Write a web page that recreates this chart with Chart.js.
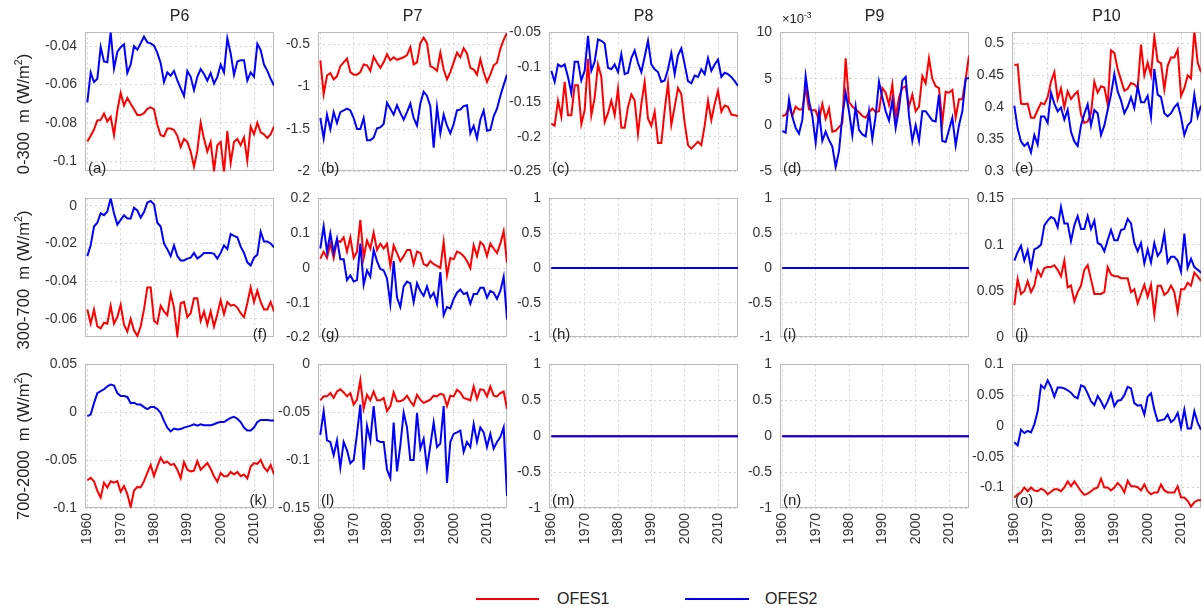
<!DOCTYPE html>
<html>
<head>
<meta charset="utf-8">
<script src="https://cdn.jsdelivr.net/npm/chart.js@4.4.1/dist/chart.umd.min.js"></script>
<style>
  body { margin: 0; background: #fff; width: 1204px; height: 615px; position: relative; overflow: hidden;
         font-family: "Liberation Sans", Arial, sans-serif; }
  canvas { position: absolute; }
  .txt { position: absolute; color: #222; white-space: nowrap; line-height: 1; }
  .ttl { font-size: 16px; transform: translateX(-50%); }
  .ylab { font-size: 16.5px; transform: translate(-50%, -50%) rotate(-90deg); }
  .ylab sup, .exp sup { font-size: 65%; vertical-align: 0.6em; line-height: 0; }
  .let { font-size: 15px; }
  .leg { font-size: 16px; }
  .line { position: absolute; height: 2px; }
</style>
</head>
<body>
<script>
// Years and ticks

const years = [1960, 1961, 1962, 1963, 1964, 1965, 1966, 1967, 1968, 1969,
  1970, 1971, 1972, 1973, 1974, 1975, 1976, 1977, 1978, 1979,
  1980, 1981, 1982, 1983, 1984, 1985, 1986, 1987, 1988, 1989,
  1990, 1991, 1992, 1993, 1994, 1995, 1996, 1997, 1998, 1999,
  2000, 2001, 2002, 2003, 2004, 2005, 2006, 2007, 2008, 2009,
  2010, 2011, 2012, 2013, 2014, 2015, 2016];
const xTicks = [1960, 1970, 1980, 1990, 2000, 2010];

const sections = ["P6", "P7", "P8", "P9", "P10"];
const layers = ["0-300", "300-700", "700-2000"];

// Row 1 : 0-300 m

const ofes1_a = [-0.0898, -0.0868, -0.0835, -0.0788, -0.0785, -0.0752, -0.0793, -0.0769, -0.0865, -0.0736,
  -0.0645, -0.071, -0.067, -0.070, -0.073, -0.076, -0.076, -0.075, -0.0727, -0.0719,
  -0.073, -0.081, -0.0865, -0.087, -0.083, -0.083, -0.0838, -0.0868, -0.0926, -0.0884,
  -0.090, -0.095, -0.103, -0.0947, -0.080, -0.0884, -0.095, -0.090, -0.105, -0.0917,
  -0.090, -0.106, -0.0843, -0.101, -0.090, -0.0884, -0.0917, -0.0876, -0.0998, -0.082,
  -0.086, -0.080, -0.085, -0.086, -0.088, -0.086, -0.082];
const ofes2_a = [-0.0694, -0.0537, -0.0587, -0.057, -0.0405, -0.048, -0.0484, -0.0327, -0.0517, -0.043,
  -0.0405, -0.039, -0.054, -0.0496, -0.040, -0.0418, -0.0385, -0.035, -0.038, -0.0385,
  -0.0397, -0.0435, -0.0488, -0.0587, -0.0537, -0.0554, -0.0529, -0.0579, -0.062, -0.066,
  -0.053, -0.056, -0.063, -0.056, -0.052, -0.0545, -0.058, -0.054, -0.0595, -0.056,
  -0.0496, -0.0537, -0.0359, -0.0438, -0.055, -0.048, -0.0474, -0.0474, -0.058, -0.0537,
  -0.056, -0.0388, -0.042, -0.0496, -0.0529, -0.057, -0.0605];

const ofes1_b = [-0.693, -1.09, -0.87, -0.84, -0.915, -0.88, -0.76, -0.715, -0.67, -0.83,
  -0.86, -0.86, -0.83, -0.74, -0.75, -0.815, -0.65, -0.72, -0.78, -0.715,
  -0.62, -0.69, -0.655, -0.685, -0.67, -0.655, -0.63, -0.537, -0.74, -0.715,
  -0.49, -0.426, -0.49, -0.76, -0.78, -0.815, -0.60, -0.80, -0.915, -0.83,
  -0.715, -0.60, -0.655, -0.55, -0.61, -0.78, -0.80, -0.86, -0.68, -0.83,
  -0.945, -0.86, -0.75, -0.72, -0.555, -0.45, -0.37];
const ofes2_b = [-1.37, -1.61, -1.33, -1.5, -1.30, -1.43, -1.30, -1.28, -1.26, -1.28,
  -1.37, -1.5, -1.5, -1.37, -1.63, -1.63, -1.60, -1.49, -1.48, -1.44,
  -1.19, -1.26, -1.33, -1.22, -1.31, -1.39, -1.30, -1.20, -1.37, -1.46,
  -1.20, -1.06, -1.11, -1.23, -1.72, -1.24, -1.55, -1.33, -1.46, -1.55,
  -1.44, -1.28, -1.27, -1.23, -1.22, -1.55, -1.46, -1.61, -1.39, -1.28,
  -1.52, -1.51, -1.35, -1.26, -1.11, -0.98, -0.86];

const ofes1_c = [-0.181, -0.184, -0.148, -0.171, -0.121, -0.169, -0.169, -0.126, -0.126, -0.182,
  -0.162, -0.088, -0.169, -0.144, -0.096, -0.114, -0.179, -0.166, -0.148, -0.169,
  -0.131, -0.187, -0.187, -0.157, -0.139, -0.148, -0.196, -0.153, -0.121, -0.174,
  -0.184, -0.164, -0.209, -0.209, -0.162, -0.123, -0.183, -0.157, -0.130, -0.139,
  -0.180, -0.212, -0.217, -0.212, -0.207, -0.212, -0.184, -0.148, -0.176, -0.153,
  -0.134, -0.164, -0.155, -0.157, -0.168, -0.169, -0.170];
const ofes2_c = [-0.105, -0.121, -0.096, -0.099, -0.096, -0.114, -0.137, -0.092, -0.092, -0.119,
  -0.105, -0.055, -0.105, -0.092, -0.060, -0.062, -0.066, -0.101, -0.103, -0.096,
  -0.107, -0.081, -0.110, -0.108, -0.087, -0.076, -0.094, -0.107, -0.085, -0.062,
  -0.096, -0.103, -0.107, -0.121, -0.119, -0.103, -0.080, -0.110, -0.083, -0.073,
  -0.096, -0.120, -0.123, -0.112, -0.114, -0.103, -0.110, -0.087, -0.105, -0.096,
  -0.089, -0.114, -0.108, -0.110, -0.114, -0.120, -0.127];

// P9 upper layer is in units of 1e-3
const ofes1_d = [1.0, 1.1, 2.0, 1.0, 2.0, 1.7, 1.7, 4.0, 1.7, 1.6,
  1.6, 0.5, 2.3, 0.7, 1.8, -0.7, -0.6, -0.2, 0.2, 7.2,
  2.5, 2.0, 1.7, 1.4, 1.0, 0.8, 1.4, 1.8, 1.4, 1.5,
  4.0, 3.5, 2.2, 4.4, 0.8, 3.0, 4.0, 4.2, 2.0, 3.3,
  1.5, 2.0, 5.3, 4.5, 7.2, 5.0, 4.2, 4.0, 0.3, 3.6,
  3.5, 3.8, 0.8, 2.8, 2.8, 5.0, 7.5];
const ofes2_d = [-0.6, -0.8, 2.8, 0.9, -0.3, -0.9, 0.6, 5.3, 2.6, 1.0,
  -1.9, 1.4, -1.7, -0.7, -1.6, -2.3, -4.5, -2.8, 1.0, 3.5,
  1.5, -1.1, 2.0, -0.5, -1.0, -1.2, 1.5, -1.5, 1.0, 4.7,
  3.0, 1.5, 0.5, 2.7, -0.3, 1.8, 4.8, 5.2, 1.0, -1.7,
  0.0, -1.7, 1.5, 1.5, 1.0, 0.5, 0.4, 3.3, -1.7, -1.8,
  -0.5, 0.8, -2.2, 0.0, 1.5, 5.0, 5.1];

const ofes1_e = [0.466, 0.467, 0.406, 0.405, 0.406, 0.384, 0.384, 0.396, 0.407, 0.405,
  0.416, 0.440, 0.455, 0.413, 0.430, 0.400, 0.425, 0.413, 0.420, 0.425,
  0.389, 0.376, 0.378, 0.391, 0.440, 0.423, 0.433, 0.431, 0.405, 0.489,
  0.485, 0.460, 0.443, 0.426, 0.429, 0.438, 0.436, 0.430, 0.498, 0.450,
  0.470, 0.450, 0.511, 0.472, 0.469, 0.428, 0.465, 0.478, 0.478, 0.490,
  0.418, 0.430, 0.450, 0.445, 0.520, 0.470, 0.455];
const ofes2_e = [0.403, 0.367, 0.347, 0.340, 0.345, 0.330, 0.357, 0.342, 0.386, 0.386,
  0.376, 0.423, 0.406, 0.394, 0.400, 0.381, 0.396, 0.362, 0.347, 0.340,
  0.372, 0.390, 0.405, 0.372, 0.396, 0.391, 0.357, 0.372, 0.396, 0.420,
  0.452, 0.425, 0.411, 0.391, 0.401, 0.416, 0.399, 0.433, 0.408, 0.408,
  0.418, 0.385, 0.460, 0.420, 0.416, 0.391, 0.386, 0.391, 0.400, 0.406,
  0.385, 0.357, 0.372, 0.378, 0.420, 0.386, 0.403];

// Row 2 : 300-700 m

const ofes1_f = [-0.055, -0.0625, -0.055, -0.064, -0.065, -0.062, -0.0625, -0.053, -0.0625, -0.059,
  -0.0525, -0.063, -0.0667, -0.060, -0.066, -0.069, -0.064, -0.055, -0.0433, -0.0433,
  -0.061, -0.0625, -0.053, -0.056, -0.058, -0.0467, -0.054, -0.069, -0.0517, -0.051,
  -0.059, -0.057, -0.049, -0.049, -0.061, -0.056, -0.063, -0.056, -0.064, -0.0575,
  -0.050, -0.0575, -0.051, -0.053, -0.0525, -0.054, -0.057, -0.059, -0.0517, -0.0433,
  -0.051, -0.045, -0.051, -0.055, -0.055, -0.051, -0.056];
const ofes2_f = [-0.0267, -0.021, -0.011, -0.009, -0.004, -0.005, -0.003, 0.004, -0.004, -0.010,
  -0.0075, -0.005, -0.0067, -0.0067, -0.001, -0.0025, -0.0063, -0.0033, 0.0017, 0.0025,
  0.0008, -0.009, -0.011, -0.020, -0.023, -0.0267, -0.021, -0.0267, -0.029, -0.029,
  -0.028, -0.0275, -0.025, -0.028, -0.0267, -0.025, -0.025, -0.025, -0.0255, -0.028,
  -0.025, -0.021, -0.023, -0.015, -0.016, -0.0167, -0.0217, -0.025, -0.030, -0.0317,
  -0.0275, -0.026, -0.0138, -0.019, -0.019, -0.020, -0.022];

const ofes1_g = [0.027, 0.047, 0.029, 0.070, 0.029, 0.079, 0.075, 0.088, 0.047, 0.088,
  0.029, 0.047, 0.138, 0.029, 0.079, 0.056, 0.102, 0.052, 0.070, 0.056,
  0.070, 0.006, 0.065, 0.043, 0.020, 0.034, 0.052, 0.052, 0.011, 0.047,
  0.043, 0.011, 0.006, 0.020, 0.011, 0.006, 0.000, 0.075, -0.021, 0.029,
  0.025, 0.047, 0.043, 0.034, 0.020, 0.000, 0.065, 0.034, 0.075, 0.065,
  0.034, 0.070, 0.056, 0.043, 0.070, 0.106, 0.015];
const ofes2_g = [0.056, 0.120, 0.047, 0.100, 0.043, 0.084, 0.025, 0.025, -0.035, -0.021,
  -0.039, -0.035, 0.070, -0.048, -0.007, -0.025, 0.052, 0.020, -0.003, -0.007,
  -0.030, -0.103, 0.020, -0.085, -0.112, -0.053, -0.039, -0.044, -0.098, -0.044,
  -0.066, -0.080, -0.053, -0.085, -0.071, -0.103, -0.012, -0.135, -0.112, -0.116,
  -0.089, -0.071, -0.062, -0.075, -0.071, -0.103, -0.075, -0.075, -0.057, -0.057,
  -0.085, -0.066, -0.071, -0.089, -0.066, -0.025, -0.148];

const ofes1_j = [0.035, 0.063, 0.047, 0.050, 0.061, 0.049, 0.056, 0.073, 0.066, 0.075,
  0.076, 0.076, 0.078, 0.073, 0.066, 0.083, 0.054, 0.056, 0.039, 0.049,
  0.056, 0.073, 0.078, 0.063, 0.047, 0.047, 0.047, 0.049, 0.076, 0.068,
  0.066, 0.066, 0.064, 0.064, 0.064, 0.049, 0.052, 0.037, 0.047, 0.057,
  0.044, 0.057, 0.025, 0.056, 0.056, 0.046, 0.049, 0.056, 0.049, 0.028,
  0.052, 0.052, 0.059, 0.056, 0.070, 0.066, 0.061];
const ofes2_j = [0.083, 0.092, 0.099, 0.083, 0.094, 0.075, 0.095, 0.097, 0.100, 0.121,
  0.126, 0.130, 0.128, 0.119, 0.141, 0.123, 0.123, 0.104, 0.121, 0.131,
  0.117, 0.117, 0.131, 0.117, 0.126, 0.102, 0.100, 0.093, 0.105, 0.116,
  0.105, 0.105, 0.116, 0.117, 0.128, 0.123, 0.102, 0.093, 0.102, 0.080,
  0.095, 0.081, 0.102, 0.088, 0.093, 0.112, 0.081, 0.087, 0.087, 0.083,
  0.071, 0.112, 0.075, 0.085, 0.076, 0.073, 0.070];

// Row 3 : 700-2000 m

const ofes1_k = [-0.071, -0.0685, -0.072, -0.082, -0.089, -0.0735, -0.0786, -0.072, -0.0735, -0.072,
  -0.083, -0.077, -0.0854, -0.099, -0.082, -0.078, -0.0786, -0.072, -0.0634, -0.055,
  -0.0668, -0.0566, -0.0475, -0.053, -0.0515, -0.055, -0.054, -0.060, -0.069, -0.052,
  -0.060, -0.0617, -0.061, -0.051, -0.060, -0.0566, -0.053, -0.059, -0.0668, -0.0725,
  -0.0634, -0.0668, -0.0668, -0.0624, -0.065, -0.0624, -0.0668, -0.065, -0.069, -0.0566,
  -0.053, -0.054, -0.0498, -0.0576, -0.0617, -0.055, -0.065];
const ofes2_k = [-0.004, -0.0024, 0.0095, 0.020, 0.022, 0.024, 0.027, 0.029, 0.028, 0.020,
  0.017, 0.017, 0.016, 0.0095, 0.010, 0.008, 0.008, 0.0054, 0.0034, 0.0054,
  0.0054, 0.0034, -0.0007, -0.009, -0.016, -0.020, -0.017, -0.018, -0.0176, -0.016,
  -0.015, -0.014, -0.0125, -0.014, -0.0125, -0.0136, -0.0136, -0.0136, -0.0125, -0.011,
  -0.0102, -0.0102, -0.008, -0.0058, -0.0047, -0.0068, -0.0102, -0.016, -0.019, -0.019,
  -0.016, -0.0102, -0.008, -0.008, -0.008, -0.0085, -0.0085];

const ofes1_l = [-0.0375, -0.0334, -0.0334, -0.030, -0.035, -0.0283, -0.026, -0.0293, -0.0334, -0.030,
  -0.042, -0.0368, -0.0164, -0.0464, -0.0317, -0.0375, -0.0283, -0.0375, -0.0375, -0.035,
  -0.0488, -0.0436, -0.0293, -0.0385, -0.0385, -0.0368, -0.0327, -0.0385, -0.043, -0.0317,
  -0.0368, -0.0402, -0.0385, -0.0368, -0.0327, -0.0334, -0.0307, -0.0317, -0.0436, -0.0327,
  -0.0334, -0.0266, -0.0293, -0.035, -0.0361, -0.0375, -0.0232, -0.0361, -0.026, -0.0266,
  -0.0334, -0.0232, -0.0327, -0.0334, -0.030, -0.0283, -0.0464];
const ofes2_l = [-0.0736, -0.0488, -0.0794, -0.081, -0.0948, -0.0794, -0.1077, -0.081, -0.0897, -0.1033,
  -0.0999, -0.0726, -0.0419, -0.110, -0.0641, -0.0794, -0.0436, -0.0794, -0.081, -0.081,
  -0.110, -0.1187, -0.0607, -0.1118, -0.0845, -0.0505, -0.0658, -0.0999, -0.0999, -0.0505,
  -0.088, -0.0777, -0.1084, -0.0845, -0.0607, -0.0863, -0.0828, -0.0436, -0.1238, -0.081,
  -0.0726, -0.071, -0.0692, -0.0914, -0.081, -0.0863, -0.0624, -0.081, -0.0658, -0.071,
  -0.0863, -0.0726, -0.088, -0.081, -0.076, -0.0658, -0.1374];

const ofes1_o = [-0.1164, -0.111, -0.108, -0.100, -0.106, -0.100, -0.1048, -0.106, -0.102, -0.1048,
  -0.111, -0.107, -0.103, -0.103, -0.106, -0.100, -0.090, -0.098, -0.090, -0.098,
  -0.106, -0.112, -0.110, -0.106, -0.102, -0.100, -0.0857, -0.100, -0.100, -0.1048,
  -0.100, -0.0926, -0.098, -0.108, -0.089, -0.098, -0.098, -0.0995, -0.1048, -0.095,
  -0.106, -0.111, -0.108, -0.108, -0.095, -0.1048, -0.108, -0.108, -0.108, -0.098,
  -0.1164, -0.1164, -0.1217, -0.131, -0.124, -0.1206, -0.1206];
const ofes2_o = [-0.0265, -0.0317, -0.0063, -0.0116, -0.008, -0.0106, 0.0026, 0.0238, 0.066, 0.061,
  0.074, 0.0635, 0.0476, 0.0624, 0.0624, 0.061, 0.058, 0.054, 0.0476, 0.045,
  0.066, 0.0635, 0.053, 0.040, 0.034, 0.0487, 0.040, 0.029, 0.040, 0.053,
  0.032, 0.041, 0.042, 0.050, 0.0635, 0.061, 0.037, 0.033, 0.034, 0.0185,
  0.0476, 0.053, 0.0265, 0.008, 0.0095, 0.0106, 0.0185, 0.0063, 0.0106, 0.0212,
  -0.0026, 0.0265, -0.0042, -0.0042, 0.0238, 0.0053, -0.0063];

// P8 / P9 below 300 m: both runs are flat zero
const zeroLine = [0, 0, 0, 0, 0, 0, 0, 0, 0, 0,
  0, 0, 0, 0, 0, 0, 0, 0, 0, 0,
  0, 0, 0, 0, 0, 0, 0, 0, 0, 0,
  0, 0, 0, 0, 0, 0, 0, 0, 0, 0,
  0, 0, 0, 0, 0, 0, 0, 0, 0, 0,
  0, 0, 0, 0, 0, 0, 0];

// Y tick labels

const yticks_a = [-0.1, -0.08, -0.06, -0.04];
const yticks_b = [-2, -1.5, -1, -0.5];
const yticks_c = [-0.25, -0.2, -0.15, -0.1, -0.05];
const yticks_d = [-5, 0, 5, 10];
const yticks_e = [0.3, 0.35, 0.4, 0.45, 0.5];
const yticks_f = [-0.06, -0.04, -0.02, 0];
const yticks_g = [-0.2, -0.1, 0, 0.1, 0.2];
const yticks_zero = [-1, -0.5, 0, 0.5, 1];
const yticks_j = [0, 0.05, 0.1, 0.15];
const yticks_k = [-0.1, -0.05, 0, 0.05];
const yticks_l = [-0.15, -0.1, -0.05, 0];
const yticks_o = [-0.1, -0.05, 0, 0.05, 0.1];

// Panels

const panels = [
  { id: "a", row: 0, col: 0, red: ofes1_a, blue: ofes2_a, min: -0.1055, max: -0.0328, ticks: yticks_a },
  { id: "b", row: 0, col: 1, red: ofes1_b, blue: ofes2_b, min: -2, max: -0.363, ticks: yticks_b },
  { id: "c", row: 0, col: 2, red: ofes1_c, blue: ofes2_c, min: -0.25, max: -0.05, ticks: yticks_c },
  { id: "d", row: 0, col: 3, red: ofes1_d, blue: ofes2_d, min: -5, max: 10, ticks: yticks_d },
  { id: "e", row: 0, col: 4, red: ofes1_e, blue: ofes2_e, min: 0.3, max: 0.517, ticks: yticks_e },
  { id: "f", row: 1, col: 0, red: ofes1_f, blue: ofes2_f, min: -0.0699, max: 0.0039, ticks: yticks_f, right: true },
  { id: "g", row: 1, col: 1, red: ofes1_g, blue: ofes2_g, min: -0.2, max: 0.2, ticks: yticks_g },
  { id: "h", row: 1, col: 2, red: zeroLine, blue: zeroLine, min: -1, max: 1, ticks: yticks_zero },
  { id: "i", row: 1, col: 3, red: zeroLine, blue: zeroLine, min: -1, max: 1, ticks: yticks_zero },
  { id: "j", row: 1, col: 4, red: ofes1_j, blue: ofes2_j, min: 0, max: 0.15, ticks: yticks_j },
  { id: "k", row: 2, col: 0, red: ofes1_k, blue: ofes2_k, min: -0.1, max: 0.05, ticks: yticks_k, right: true },
  { id: "l", row: 2, col: 1, red: ofes1_l, blue: ofes2_l, min: -0.15, max: 0, ticks: yticks_l },
  { id: "m", row: 2, col: 2, red: zeroLine, blue: zeroLine, min: -1, max: 1, ticks: yticks_zero },
  { id: "n", row: 2, col: 3, red: zeroLine, blue: zeroLine, min: -1, max: 1, ticks: yticks_zero },
  { id: "o", row: 2, col: 4, red: ofes1_o, blue: ofes2_o, min: -0.1333, max: 0.1, ticks: yticks_o },
];

// Layout

const colLeft = [85, 318, 549, 780, 1012];
const colW = 189;
const rowTop = [28, 194, 360];
const rowH = 148;
const padL = 64, padT = 12, padR = 12, xAxisH = 50;
const fontFamily = "'Liberation Sans', Arial, sans-serif";

function addText(cls, html, left, top) {
  let d = document.createElement("div");
  d.className = "txt " + cls;
  d.innerHTML = html;
  d.style.left = left + "px";
  d.style.top = top + "px";
  document.body.appendChild(d);
  return d;
}

// axes box drawn under the lines
const boxPlugin = {
  id: "box",
  beforeDatasetsDraw(chart) {
    const ctx = chart.ctx;
    const a = chart.chartArea;
    ctx.save();
    ctx.strokeStyle = "#bcbcbc";
    ctx.lineWidth = 1;
    ctx.strokeRect(Math.round(a.left) + 0.5, Math.round(a.top) + 0.5,
      Math.round(a.right - a.left) - 1, Math.round(a.bottom - a.top) - 1);
    ctx.restore();
  },
};

function toPoints(values) {
  return values.map((v, i) => ({ x: years[i], y: v }));
}

panels.forEach(p => {
  let bottomRow = p.row === 2;
  let canvas = document.createElement("canvas");
  let w = colW + padL + padR;
  let h = rowH + padT + (bottomRow ? xAxisH : padT);
  canvas.width = w;
  canvas.height = h;
  canvas.style.left = (colLeft[p.col] - padL) + "px";
  canvas.style.top = (rowTop[p.row] - padT) + "px";
  document.body.appendChild(canvas);

  new Chart(canvas.getContext("2d"), {
    type: "line",
    data: {
      datasets: [
        { label: "OFES2", data: toPoints(p.blue), borderColor: "#0000ff", borderWidth: 2,
          pointRadius: 0, tension: 0, order: 0 },
        { label: "OFES1", data: toPoints(p.red), borderColor: "#ff0000", borderWidth: 2,
          pointRadius: 0, tension: 0, order: 1 },
      ],
    },
    options: {
      responsive: false,
      animation: false,
      layout: { padding: { left: 0, top: padT, right: padR, bottom: bottomRow ? 0 : padT } },
      plugins: { legend: { display: false }, tooltip: { enabled: false } },
      scales: {
        x: {
          type: "linear",
          min: 1959.3,
          max: 2016,
          afterBuildTicks: s => { s.ticks = xTicks.map(v => ({ value: v })); },
          afterFit: s => { s.height = bottomRow ? xAxisH : 0; },
          grid: { color: "#d4d4d4", drawTicks: false },
          border: { display: false, dash: [2, 3] },
          ticks: {
            display: bottomRow, minRotation: 90, maxRotation: 90, padding: 5,
            color: "#333", font: { size: 14, family: fontFamily },
            callback: v => String(v),
          },
        },
        y: {
          min: p.min,
          max: p.max,
          afterBuildTicks: s => { s.ticks = p.ticks.map(v => ({ value: v })); },
          afterFit: s => { s.width = padL; },
          grid: { color: "#d4d4d4", drawTicks: false },
          border: { display: false, dash: [2, 3] },
          ticks: {
            padding: 8, color: "#333", font: { size: 14, family: fontFamily },
            callback: v => String(v),
          },
        },
      },
    },
    plugins: [boxPlugin],
  });

  // panel letter
  let letter = "(" + p.id + ")";
  let boxBottom = rowTop[p.row] + rowH;
  if (p.right) {
    let d = addText("let", letter, 0, boxBottom - 16);
    d.style.left = "auto";
    d.style.right = (1204 - (colLeft[p.col] + colW - 7)) + "px";
  } else {
    addText("let", letter, colLeft[p.col] + 3, boxBottom - 16);
  }
});

// Titles, axis labels, legend

sections.forEach((s, i) => addText("ttl", s, colLeft[i] + colW / 2, 8));
layers.forEach((s, i) => addText("ylab", s + "&nbsp; m (W/m<sup>2</sup>)", 23, rowTop[i] + rowH / 2 + 12));
addText("exp", "&times;10<sup>-3</sup>", 782, 12).style.fontSize = "13px";

let red = document.createElement("div");
red.className = "line";
red.style.cssText += "left:476px;top:598px;width:63px;background:#ff0000;";
document.body.appendChild(red);
let blue = document.createElement("div");
blue.className = "line";
blue.style.cssText += "left:685px;top:598px;width:64px;background:#0000ff;";
document.body.appendChild(blue);
addText("leg", "OFES1", 557, 591);
addText("leg", "OFES2", 765, 591);
</script>
</body>
</html>
